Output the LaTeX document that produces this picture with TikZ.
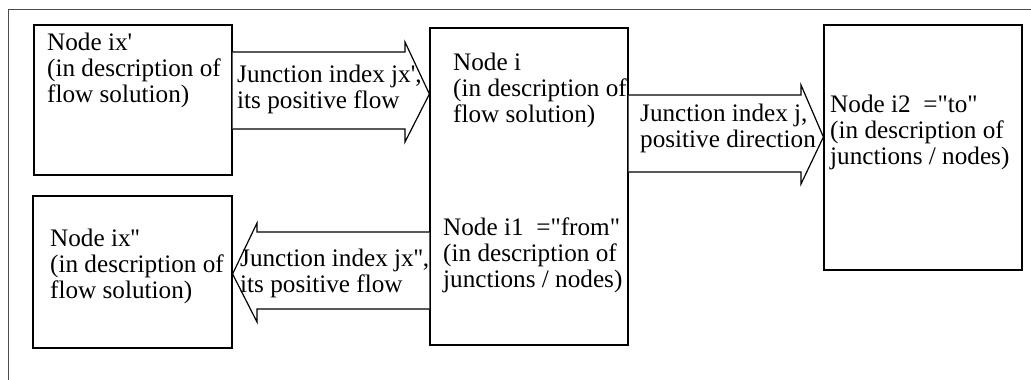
\documentclass[tikz,border=0pt]{standalone}
\usepackage{fontspec}
\setmainfont{Liberation Serif}[Ligatures=TeXOff]
\usetikzlibrary{calc}
\begin{document}
\begin{tikzpicture}[x=1pt,y=-1pt,
  box/.style={draw,line width=1.2pt,rectangle,inner sep=0pt},
  txt/.style={inner sep=0pt,anchor=base west,align=left,font=\fontsize{25.2}{26}\selectfont},
  blockarrow/.style={draw,line width=1.2pt,line join=miter,fill=white}]
\useasboundingbox (0,0) rectangle (1031,380);
% outer frame
\draw[line width=0.8pt,black!70] (8,380) -- (8,9) -- (1031,9);
% boxes
\node[box,minimum width=198pt,minimum height=150pt] (ixp) at (133,100) {};
\node[box,minimum width=198pt,minimum height=317pt] (i) at (529,186.5) {};
\node[box,minimum width=199pt,minimum height=152pt] (ixpp) at (132.5,272) {};
\node[box,minimum width=198pt,minimum height=245pt] (i2) at (923,147.5) {};
% block arrows
\draw[blockarrow] (ixp.east |- 0,52) -- (405,52) -- (405,42) -- (i.west |- 0,94)
  -- (405,142) -- (405,129) -- (ixp.east |- 0,129);
\draw[blockarrow] (i.west |- 0,232) -- (257,232) -- (257,223) -- (ixpp.east |- 0,274)
  -- (257,322) -- (257,309) -- (i.west |- 0,309);
\draw[blockarrow] (i.east |- 0,95) -- (801,95) -- (801,85) -- (i2.west |- 0,137)
  -- (801,184) -- (801,172) -- (i.east |- 0,172);
% texts (anchored at the baseline of their last line)
\node[txt] (tixp) at (47,102) {Node ix'\\(in description of\\flow solution)};
\node[txt] (ta1) at (237,108) {Junction index jx',\\its positive flow};
\node[txt] (ti) at (453,122) {Node i\\(in description of\\flow solution)};
\node[txt] (ti1) at (443,287) {Node i1\ \ ="from"\\(in description of\\junctions / nodes)};
\node[txt] (ta2) at (240,292) {Junction index jx'',\\its positive flow};
\node[txt] (tixpp) at (50,298) {Node ix''\\(in description of\\flow solution)};
\node[txt] (ta3) at (640,147) {Junction index j,\\positive direction};
\node[txt] (ti2) at (830,164) {Node i2\ \ ="to"\\(in description of\\junctions / nodes)};
\end{tikzpicture}
\end{document}
